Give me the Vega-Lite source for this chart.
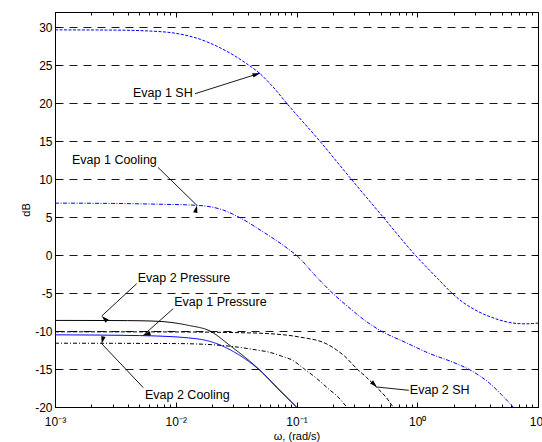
{
  "$schema": "https://vega.github.io/schema/vega-lite/v6.json",
  "width": 483,
  "height": 395,
  "autosize": {"type": "none"},
  "padding": {"left": 55, "top": 12, "right": 4, "bottom": 35},
  "background": "white",
  "config": {
    "view": {"stroke": "black", "strokeWidth": 1},
    "axis": {"domainColor": "black", "tickColor": "black", "labelColor": "black", "labelFont": "Liberation Sans", "labelFontSize": 12, "titleFont": "Liberation Sans", "titleFontWeight": "normal", "titleColor": "black", "titleFontSize": 11}
  },
  "datasets": {
    "curves": [
      {"s": "Evap 1 SH", "x": 0.001, "y": 29.65}, {"s": "Evap 1 SH", "x": 0.003, "y": 29.62}, {"s": "Evap 1 SH", "x": 0.006, "y": 29.5}, {"s": "Evap 1 SH", "x": 0.0108, "y": 29.1}, {"s": "Evap 1 SH", "x": 0.016, "y": 28.4}, {"s": "Evap 1 SH", "x": 0.0232, "y": 27.3}, {"s": "Evap 1 SH", "x": 0.031, "y": 26.2}, {"s": "Evap 1 SH", "x": 0.0386, "y": 25.2}, {"s": "Evap 1 SH", "x": 0.0497, "y": 23.9}, {"s": "Evap 1 SH", "x": 0.065, "y": 22.0}, {"s": "Evap 1 SH", "x": 0.0828, "y": 20.0}, {"s": "Evap 1 SH", "x": 0.156, "y": 15.0}, {"s": "Evap 1 SH", "x": 0.277, "y": 10.2}, {"s": "Evap 1 SH", "x": 0.522, "y": 5.0}, {"s": "Evap 1 SH", "x": 0.955, "y": 0.05}, {"s": "Evap 1 SH", "x": 1.5, "y": -3.2}, {"s": "Evap 1 SH", "x": 1.92, "y": -4.95}, {"s": "Evap 1 SH", "x": 2.385, "y": -6.2}, {"s": "Evap 1 SH", "x": 3.0, "y": -7.2}, {"s": "Evap 1 SH", "x": 3.99, "y": -8.1}, {"s": "Evap 1 SH", "x": 5.2, "y": -8.7}, {"s": "Evap 1 SH", "x": 6.64, "y": -9.0}, {"s": "Evap 1 SH", "x": 8.0, "y": -9.05}, {"s": "Evap 1 SH", "x": 10, "y": -8.95},
      {"s": "Evap 1 Cooling", "x": 0.001, "y": 6.84}, {"s": "Evap 1 Cooling", "x": 0.003, "y": 6.8}, {"s": "Evap 1 Cooling", "x": 0.007, "y": 6.7}, {"s": "Evap 1 Cooling", "x": 0.0149, "y": 6.55}, {"s": "Evap 1 Cooling", "x": 0.025, "y": 5.9}, {"s": "Evap 1 Cooling", "x": 0.034, "y": 4.92}, {"s": "Evap 1 Cooling", "x": 0.05, "y": 3.3}, {"s": "Evap 1 Cooling", "x": 0.088, "y": 0.65}, {"s": "Evap 1 Cooling", "x": 0.1, "y": -0.04}, {"s": "Evap 1 Cooling", "x": 0.145, "y": -2.8}, {"s": "Evap 1 Cooling", "x": 0.201, "y": -5.08}, {"s": "Evap 1 Cooling", "x": 0.286, "y": -7.2}, {"s": "Evap 1 Cooling", "x": 0.368, "y": -8.6}, {"s": "Evap 1 Cooling", "x": 0.49, "y": -9.9}, {"s": "Evap 1 Cooling", "x": 0.8, "y": -11.5}, {"s": "Evap 1 Cooling", "x": 1.27, "y": -12.97}, {"s": "Evap 1 Cooling", "x": 1.97, "y": -14.1}, {"s": "Evap 1 Cooling", "x": 2.72, "y": -15.1}, {"s": "Evap 1 Cooling", "x": 3.99, "y": -16.9}, {"s": "Evap 1 Cooling", "x": 5.0, "y": -18.4}, {"s": "Evap 1 Cooling", "x": 6.22, "y": -20},
      {"s": "Evap 2 Pressure", "x": 0.001, "y": -8.6}, {"s": "Evap 2 Pressure", "x": 0.004, "y": -8.63}, {"s": "Evap 2 Pressure", "x": 0.00673, "y": -8.7}, {"s": "Evap 2 Pressure", "x": 0.01, "y": -8.95}, {"s": "Evap 2 Pressure", "x": 0.0127, "y": -9.25}, {"s": "Evap 2 Pressure", "x": 0.0192, "y": -10.0}, {"s": "Evap 2 Pressure", "x": 0.0281, "y": -11.9}, {"s": "Evap 2 Pressure", "x": 0.0482, "y": -14.95}, {"s": "Evap 2 Pressure", "x": 0.073, "y": -17.8}, {"s": "Evap 2 Pressure", "x": 0.1, "y": -20},
      {"s": "Evap 1 Pressure", "x": 0.001, "y": -10.5}, {"s": "Evap 1 Pressure", "x": 0.005, "y": -10.6}, {"s": "Evap 1 Pressure", "x": 0.0127, "y": -10.9}, {"s": "Evap 1 Pressure", "x": 0.02, "y": -11.45}, {"s": "Evap 1 Pressure", "x": 0.03, "y": -12.7}, {"s": "Evap 1 Pressure", "x": 0.041, "y": -14.1}, {"s": "Evap 1 Pressure", "x": 0.0482, "y": -15.0}, {"s": "Evap 1 Pressure", "x": 0.073, "y": -17.9}, {"s": "Evap 1 Pressure", "x": 0.1, "y": -20},
      {"s": "Evap 2 SH", "x": 0.001, "y": -10.1}, {"s": "Evap 2 SH", "x": 0.01, "y": -10.12}, {"s": "Evap 2 SH", "x": 0.03, "y": -10.2}, {"s": "Evap 2 SH", "x": 0.06, "y": -10.35}, {"s": "Evap 2 SH", "x": 0.107, "y": -10.8}, {"s": "Evap 2 SH", "x": 0.178, "y": -11.7}, {"s": "Evap 2 SH", "x": 0.215, "y": -12.5}, {"s": "Evap 2 SH", "x": 0.25, "y": -13.3}, {"s": "Evap 2 SH", "x": 0.315, "y": -14.95}, {"s": "Evap 2 SH", "x": 0.38, "y": -16.1}, {"s": "Evap 2 SH", "x": 0.46, "y": -17.4}, {"s": "Evap 2 SH", "x": 0.55, "y": -18.7}, {"s": "Evap 2 SH", "x": 0.631, "y": -20},
      {"s": "Evap 2 Cooling", "x": 0.001, "y": -11.6}, {"s": "Evap 2 Cooling", "x": 0.01, "y": -11.65}, {"s": "Evap 2 Cooling", "x": 0.02, "y": -11.8}, {"s": "Evap 2 Cooling", "x": 0.03, "y": -12.05}, {"s": "Evap 2 Cooling", "x": 0.047, "y": -12.5}, {"s": "Evap 2 Cooling", "x": 0.06, "y": -12.8}, {"s": "Evap 2 Cooling", "x": 0.075, "y": -13.3}, {"s": "Evap 2 Cooling", "x": 0.094, "y": -13.9}, {"s": "Evap 2 Cooling", "x": 0.114, "y": -14.9}, {"s": "Evap 2 Cooling", "x": 0.146, "y": -16.2}, {"s": "Evap 2 Cooling", "x": 0.19, "y": -17.8}, {"s": "Evap 2 Cooling", "x": 0.215, "y": -18.5}, {"s": "Evap 2 Cooling", "x": 0.26, "y": -20}
    ],
    "notes": [
      {"label": "Evap 1 SH", "tx": 0.00442, "ty": 21.28, "ax": 0.01442, "ay": 21.24, "bx": 0.0498, "by": 23.95},
      {"label": "Evap 1 Cooling", "tx": 0.001383, "ty": 12.46, "ax": 0.00713, "ay": 11.54, "bx": 0.01498, "by": 6.54},
      {"label": "Evap 2 Pressure", "tx": 0.00484, "ty": -2.97, "ax": 0.00475, "ay": -3.76, "bx": 0.002435, "by": -8.03},
      {"label": "Evap 1 Pressure", "tx": 0.00972, "ty": -6.18, "ax": 0.00953, "ay": -7.05, "bx": 0.00538, "by": -10.57},
      {"label": "Evap 2 Cooling", "tx": 0.00556, "ty": -18.46, "ax": 0.00538, "ay": -17.45, "bx": 0.002435, "by": -11.66},
      {"label": "Evap 2 SH", "tx": 0.8684, "ty": -17.8, "ax": 0.852, "ay": -17.8, "bx": 0.4629, "by": -17.37}
    ]
  },
  "resolve": {"axis": {"x": "independent", "y": "independent"}},
  "layer": [
    {
      "data": {"name": "curves"},
      "mark": {"type": "line", "clip": true, "interpolate": "monotone"},
      "encoding": {
        "x": {"field": "x", "type": "quantitative", "scale": {"type": "log", "domain": [0.001, 10]},
          "axis": {"orient": "bottom", "title": "ω, (rad/s)", "grid": false, "labelOverlap": false, "labelFlush": false,
            "values": [0.001,0.002,0.003,0.004,0.005,0.006,0.007,0.008,0.009,0.01,0.02,0.03,0.04,0.05,0.06,0.07,0.08,0.09,0.1,0.2,0.3,0.4,0.5,0.6,0.7,0.8,0.9,1,2,3,4,5,6,7,8,9,10],
            "labelExpr": "datum.value == 0.001 ? '10⁻³' : datum.value == 0.01 ? '10⁻²' : datum.value == 0.1 ? '10⁻¹' : datum.value == 1 ? '10⁰' : datum.value == 10 ? '10¹' : ''",
            "tickSize": {"condition": {"test": "indexof([0.001,0.01,0.1,1,10], datum.value) >= 0", "value": -5}, "value": -3},
            "labelPadding": 14, "titlePadding": 1}},
        "y": {"field": "y", "type": "quantitative", "scale": {"domain": [-20, 32], "nice": false, "zero": false},
          "axis": {"orient": "left", "title": "dB", "values": [-20,-15,-10,-5,0,5,10,15,20,25,30], "labelExpr": "'' + datum.value", "grid": true, "gridDash": [8, 6], "gridColor": "#000", "gridOpacity": 0.9, "tickSize": -5, "labelPadding": 8, "titlePadding": 3}},
        "color": {"field": "s", "type": "nominal", "legend": null, "scale": {"domain": ["Evap 1 SH", "Evap 1 Cooling", "Evap 2 Pressure", "Evap 1 Pressure", "Evap 2 SH", "Evap 2 Cooling"], "range": ["#0000ff", "#0000ff", "#000000", "#0000ff", "#000000", "#000000"]}},
        "strokeDash": {"field": "s", "type": "nominal", "legend": null, "scale": {"domain": ["Evap 1 SH", "Evap 1 Cooling", "Evap 2 Pressure", "Evap 1 Pressure", "Evap 2 SH", "Evap 2 Cooling"], "range": [[3, 1.5], [4, 1.5, 1, 1.5], [1, 0], [1, 0], [4, 2], [4, 2, 1, 2]]}},
        "strokeWidth": {"field": "s", "type": "nominal", "legend": null, "scale": {"domain": ["Evap 1 SH", "Evap 1 Cooling", "Evap 2 Pressure", "Evap 1 Pressure", "Evap 2 SH", "Evap 2 Cooling"], "range": [1, 1, 1.3, 1.6, 1, 1]}}
      }
    },
    {
      "data": {"name": "notes"},
      "mark": {"type": "rule", "color": "black", "strokeWidth": 0.9},
      "encoding": {
        "x": {"field": "ax", "type": "quantitative", "scale": {"type": "log", "domain": [0.001, 10]},
          "axis": {"orient": "top", "title": null, "labels": false, "grid": false, "domain": false,
            "values": [0.001,0.002,0.003,0.004,0.005,0.006,0.007,0.008,0.009,0.01,0.02,0.03,0.04,0.05,0.06,0.07,0.08,0.09,0.1,0.2,0.3,0.4,0.5,0.6,0.7,0.8,0.9,1,2,3,4,5,6,7,8,9,10],
            "tickSize": {"condition": {"test": "indexof([0.001,0.01,0.1,1,10], datum.value) >= 0", "value": -5}, "value": -3}}},
        "y": {"field": "ay", "type": "quantitative", "scale": {"domain": [-20, 32], "nice": false, "zero": false},
          "axis": {"orient": "right", "title": null, "labels": false, "grid": false, "domain": false, "values": [-20,-15,-10,-5,0,5,10,15,20,25,30], "tickSize": -5}},
        "x2": {"field": "bx"},
        "y2": {"field": "by"}
      }
    },
    {
      "data": {"name": "notes"},
      "mark": {"type": "point", "filled": true, "color": "black", "opacity": 1, "size": 220, "shape": "M0,0L-1,-0.3L-1,0.3Z"},
      "encoding": {
        "x": {"field": "bx", "type": "quantitative", "axis": null},
        "y": {"field": "by", "type": "quantitative", "axis": null},
        "angle": {"field": "label", "type": "nominal", "legend": null, "scale": {"domain": ["Evap 1 SH", "Evap 1 Cooling", "Evap 2 Pressure", "Evap 1 Pressure", "Evap 2 Cooling", "Evap 2 SH"], "range": [342.4, 44.3, 137.2, 138.3, 226.6, 185.9]}}
      }
    },
    {
      "data": {"name": "notes"},
      "mark": {"type": "text", "align": "left", "baseline": "middle", "font": "Liberation Sans", "fontSize": 12.5, "color": "black"},
      "encoding": {
        "x": {"field": "tx", "type": "quantitative", "axis": null},
        "y": {"field": "ty", "type": "quantitative", "axis": null},
        "text": {"field": "label"}
      }
    }
  ]
}
